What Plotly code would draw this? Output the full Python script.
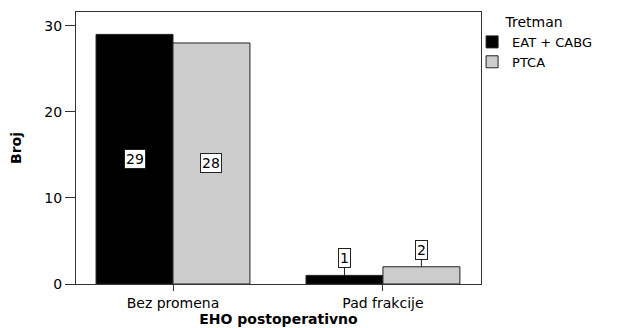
import plotly.graph_objects as go

categories = ["Bez promena", "Pad frakcije"]
series_names = ["EAT + CABG", "PTCA"]
eat_cabg = [29, 1]
ptca = [28, 2]
y_ticks = [0, 10, 20, 30]

colors = ["#000000", "#cccccc"]
FONT = "DejaVu Sans, Liberation Sans, Arial, sans-serif"
FS = 14

fig = go.Figure()
for name, vals, col in zip(series_names, [eat_cabg, ptca], colors):
    fig.add_trace(go.Bar(
        x=list(range(len(categories))), y=vals, name=name,
        marker=dict(color=col, line=dict(color="#222222", width=1)),
    ))

bargap = 0.267
w = (1 - bargap) / 2
for si, vals in enumerate([eat_cabg, ptca]):
    for ci, v in enumerate(vals):
        xpos = ci + (si - 0.5) * w
        if v > 5:
            fig.add_annotation(x=xpos, y=v / 2, text=str(v), showarrow=False,
                               bgcolor="white", bordercolor="#222222", borderwidth=1,
                               borderpad=1, font=dict(size=FS, color="black", family=FONT))
        else:
            fig.add_annotation(x=xpos, y=v, text=str(v), showarrow=True,
                               arrowhead=0, arrowwidth=1, arrowcolor="#222222",
                               ax=0, ay=-17, standoff=0,
                               bgcolor="white", bordercolor="#222222", borderwidth=1,
                               borderpad=1, font=dict(size=FS, color="black", family=FONT))

# page body has an 8px default margin, so the figure is sized to compensate
fig.update_layout(
    width=615, height=320,
    margin=dict(l=68, r=142, t=4, b=44, autoexpand=False),
    paper_bgcolor="white", plot_bgcolor="white",
    barmode="group", bargap=bargap, bargroupgap=0,
    font=dict(family=FONT, size=FS, color="black"),
    showlegend=True,
    legend=dict(
        x=0.978, xanchor="left", y=1.012, yanchor="top",
        title=dict(text="Tretman", side="top center", font=dict(size=FS)),
        font=dict(size=13), bgcolor="rgba(0,0,0,0)",
        tracegroupgap=0, itemwidth=30,
    ),
    xaxis=dict(
        tickmode="array", tickvals=list(range(len(categories))), ticktext=categories,
        range=[-0.462, 1.467], showgrid=False, zeroline=False,
        showline=True, linecolor="#333333", linewidth=1, mirror=True,
        ticks="outside", ticklen=6, tickcolor="#333333",
        tickfont=dict(size=FS),
        title=dict(text="<b>EHO postoperativno</b>", font=dict(size=FS), standoff=3),
    ),
    yaxis=dict(
        range=[0, 31.6], tickvals=y_ticks, showgrid=False, zeroline=False,
        showline=True, linecolor="#333333", linewidth=1, mirror=True,
        ticks="outside", ticklen=10, tickcolor="#333333",
        tickfont=dict(size=FS),
        title=dict(text="<b>Broj</b>", font=dict(size=FS), standoff=20),
    ),
)

fig.write_html("out.html")
